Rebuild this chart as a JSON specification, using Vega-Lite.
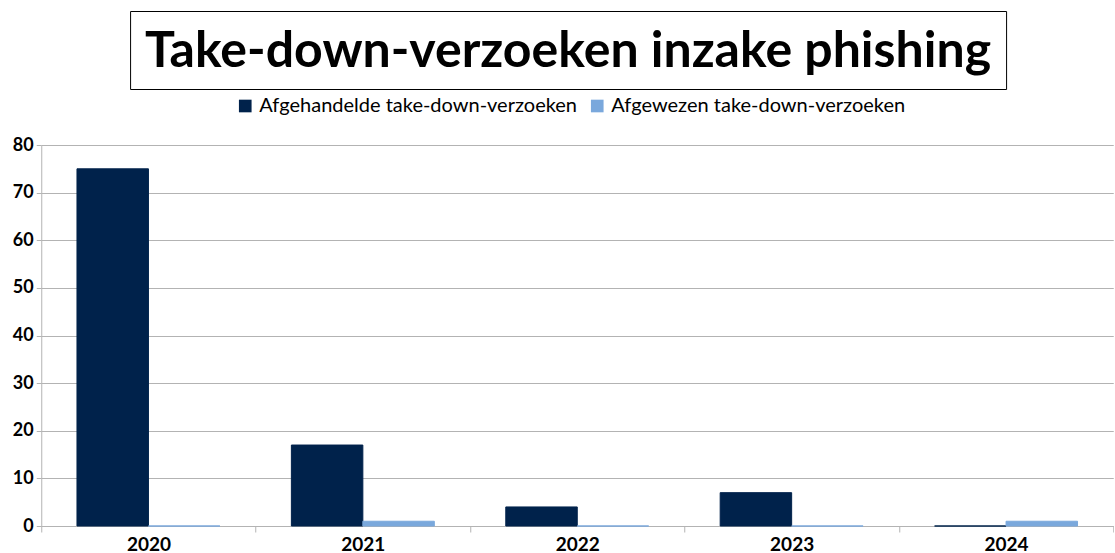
{
  "$schema": "https://vega.github.io/schema/vega-lite/v6.json",
  "background": "white",
  "padding": {"left": 12, "top": 10, "right": 0, "bottom": 0},
  "config": {"view": {"stroke": null}, "font": "Lato", "concat": {"spacing": 6}},
  "center": true,
  "resolve": {"legend": {"color": "independent", "stroke": "independent"}, "scale": {"color": "independent", "stroke": "independent"}},
  "vconcat": [
    {
      "width": 876,
      "height": 78,
      "view": {"stroke": "#000", "strokeWidth": 1},
      "data": {"values": [{"titel": "Take-down-verzoeken inzake phishing"}]},
      "mark": {"type": "text", "fontSize": 50, "fontWeight": "bold", "font": "Lato", "color": "#000", "align": "center", "baseline": "middle", "dy": 2},
      "encoding": {
        "text": {"field": "titel", "type": "nominal"},
        "y": {"field": "titel", "type": "nominal", "axis": {"orient": "right", "title": null, "domain": false, "ticks": false, "labelOpacity": 0, "labelFontSize": 6, "labelLimit": 12, "labelPadding": 8}}
      }
    },
    {
      "width": 1072,
      "height": 381,
      "data": {
        "values": [
          {"jaar": "2020", "soort": "Afgehandelde take-down-verzoeken", "aantal": 75},
          {"jaar": "2020", "soort": "Afgewezen take-down-verzoeken", "aantal": 0},
          {"jaar": "2021", "soort": "Afgehandelde take-down-verzoeken", "aantal": 17},
          {"jaar": "2021", "soort": "Afgewezen take-down-verzoeken", "aantal": 1},
          {"jaar": "2022", "soort": "Afgehandelde take-down-verzoeken", "aantal": 4},
          {"jaar": "2022", "soort": "Afgewezen take-down-verzoeken", "aantal": 0},
          {"jaar": "2023", "soort": "Afgehandelde take-down-verzoeken", "aantal": 7},
          {"jaar": "2023", "soort": "Afgewezen take-down-verzoeken", "aantal": 0},
          {"jaar": "2024", "soort": "Afgehandelde take-down-verzoeken", "aantal": 0},
          {"jaar": "2024", "soort": "Afgewezen take-down-verzoeken", "aantal": 1}
        ]
      },
      "mark": {"type": "bar", "strokeWidth": 1},
      "encoding": {
        "x": {
          "field": "jaar",
          "type": "nominal",
          "scale": {"paddingInner": 0, "paddingOuter": 0},
          "axis": {
            "title": null,
            "labelAngle": 0,
            "labelFont": "Lato",
            "labelFontSize": 19,
            "labelFontWeight": "bold",
            "labelColor": "#000",
            "labelPadding": 3,
            "tickBand": "extent",
            "tickColor": "#b3b3b3",
            "tickSize": 6,
            "domainColor": "#b3b3b3",
            "grid": false
          }
        },
        "xOffset": {
          "field": "soort",
          "type": "nominal",
          "sort": ["Afgehandelde take-down-verzoeken", "Afgewezen take-down-verzoeken"],
          "scale": {"paddingInner": 0, "paddingOuter": 0.5}
        },
        "y": {
          "field": "aantal",
          "type": "quantitative",
          "scale": {"domain": [0, 80]},
          "axis": {
            "title": null,
            "values": [0, 10, 20, 30, 40, 50, 60, 70, 80],
            "labelFont": "Lato",
            "labelFontSize": 18,
            "labelFontWeight": "bold",
            "labelColor": "#000",
            "labelPadding": 3,
            "tickColor": "#b3b3b3",
            "tickSize": 5,
            "domainColor": "#b3b3b3",
            "gridColor": "#b3b3b3",
            "gridOpacity": 1
          }
        },
        "color": {
          "field": "soort",
          "type": "nominal",
          "sort": ["Afgehandelde take-down-verzoeken", "Afgewezen take-down-verzoeken"],
          "scale": {"range": ["#00224b", "#7aa8dc"]},
          "legend": {
            "title": null,
            "orient": "none",
            "legendX": 194,
            "legendY": -49,
            "direction": "horizontal",
            "symbolType": "square",
            "symbolSize": 160,
            "symbolStrokeWidth": 0,
            "labelFont": "Lato",
            "labelFontSize": 20,
            "labelColor": "#000",
            "labelLimit": 0,
            "columnPadding": 10,
            "symbolOffset": 0,
            "labelOffset": 4
          }
        },
        "stroke": {
          "field": "soort",
          "type": "nominal",
          "sort": ["Afgehandelde take-down-verzoeken", "Afgewezen take-down-verzoeken"],
          "scale": {"range": ["#00224b", "#7aa8dc"]},
          "legend": null
        }
      }
    }
  ]
}
